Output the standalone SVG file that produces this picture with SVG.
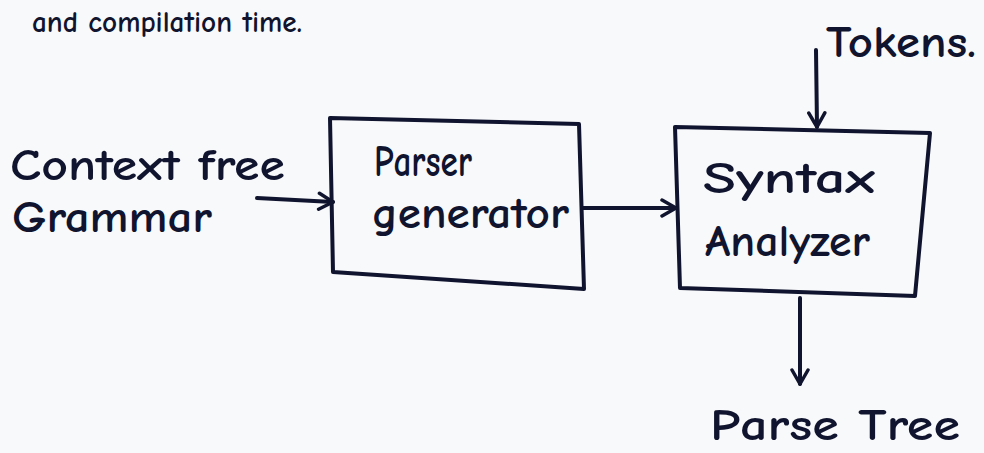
<svg xmlns="http://www.w3.org/2000/svg" width="984" height="453" viewBox="0 0 984 453">
  <style>
    .ink { fill: none; stroke: #10142e; stroke-width: 4; stroke-linecap: round; stroke-linejoin: round; }
    .hand { font-family: "Comic Neue", "Liberation Sans", "DejaVu Sans", sans-serif; fill: #10142e; font-weight: bold; }
    .lbl { font-size: 45px; }
  </style>
  <defs>
    <marker id="arrow" viewBox="0 0 20 20" refX="18" refY="10" markerWidth="20" markerHeight="20" markerUnits="userSpaceOnUse" orient="auto">
      <path d="M4,2 L18,10 L4,18" fill="none" stroke="#10142e" stroke-width="3.5" stroke-linecap="round" stroke-linejoin="round"/>
    </marker>
  </defs>
  <rect width="984" height="453" fill="#f8f9fa"/>

  <!-- end of the preceding line of notes -->
  <text class="hand" x="32" y="32" font-size="30" textLength="270" lengthAdjust="spacingAndGlyphs">and compilation time.</text>

  <g id="context-free-grammar">
    <text class="hand lbl" x="10" y="180" textLength="275" lengthAdjust="spacingAndGlyphs">Context free</text>
    <text class="hand lbl" x="12" y="232" textLength="200" lengthAdjust="spacingAndGlyphs">Grammar</text>
  </g>

  <g id="parser-generator">
    <path class="ink" d="M330,118 L579,124 L584,289 L333,272 Z"/>
    <text class="hand lbl" x="374" y="176" textLength="98" lengthAdjust="spacingAndGlyphs">Parser</text>
    <text class="hand lbl" x="372" y="228" textLength="197" lengthAdjust="spacingAndGlyphs">generator</text>
  </g>

  <g id="syntax-analyzer">
    <path class="ink" d="M675,127 L930,133 L915,296 L680,288 Z"/>
    <text class="hand lbl" x="703" y="193" textLength="172" lengthAdjust="spacingAndGlyphs">Syntax</text>
    <text class="hand lbl" x="705" y="256" textLength="165" lengthAdjust="spacingAndGlyphs">Analyzer</text>
  </g>

  <g id="tokens">
    <text class="hand lbl" x="826" y="57" textLength="150" lengthAdjust="spacingAndGlyphs">Tokens.</text>
  </g>

  <g id="parse-tree">
    <text class="hand lbl" x="710" y="440" textLength="250" lengthAdjust="spacingAndGlyphs">Parse Tree</text>
  </g>

  <g id="connectors">
    <path class="ink" d="M257,198 L333,202" marker-end="url(#arrow)"/>
    <path class="ink" d="M582,208 L676,208" marker-end="url(#arrow)"/>
    <path class="ink" d="M816,50 L817,127" marker-end="url(#arrow)"/>
    <path class="ink" d="M800,298 L800,384" marker-end="url(#arrow)"/>
  </g>
</svg>
